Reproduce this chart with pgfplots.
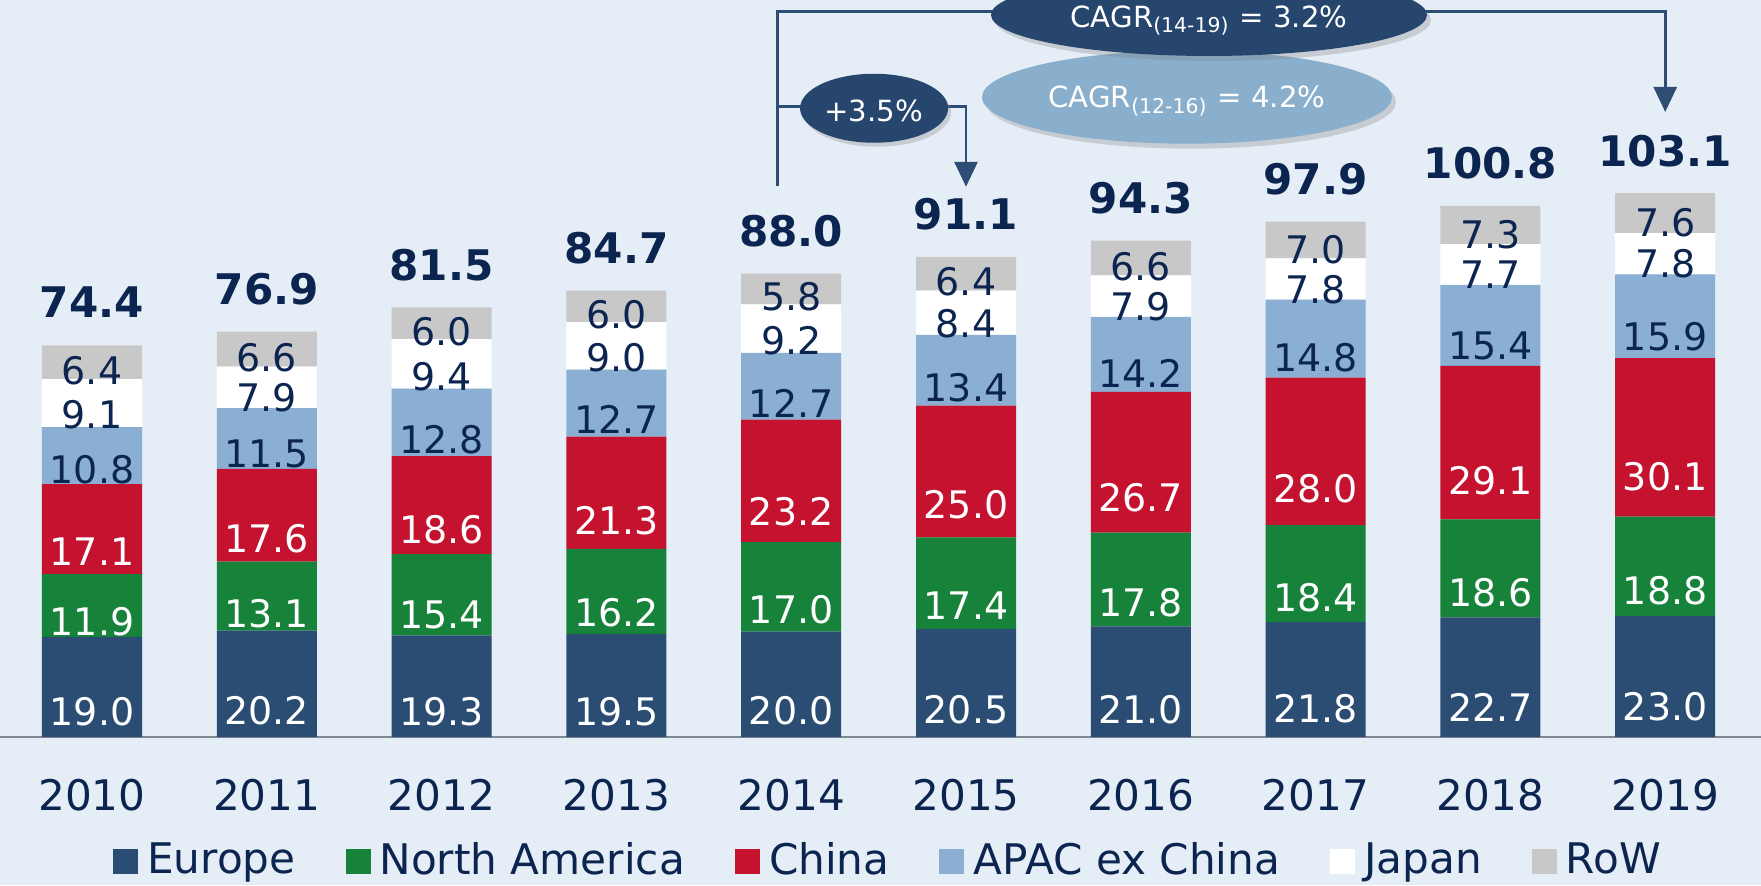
\documentclass[border=0pt]{standalone}
\usepackage{fontspec}
\setmainfont{DejaVu Sans}
\usepackage{pgfplots}
\usepackage{pgfplotstable}
\pgfplotsset{compat=1.18}
\usetikzlibrary{arrows.meta,shapes.geometric,shadows}

\definecolor{bgblue}{RGB}{229,238,246}
\definecolor{eucol}{RGB}{43,76,115}
\definecolor{nacol}{RGB}{22,130,58}
\definecolor{cncol}{RGB}{196,18,47}
\definecolor{apcol}{RGB}{138,175,211}
\definecolor{rwcol}{RGB}{200,200,200}
\definecolor{navy}{RGB}{12,37,80}
\definecolor{linecol}{RGB}{46,77,117}
\definecolor{darkell}{RGB}{38,70,110}
\definecolor{lightell}{RGB}{138,175,204}
\definecolor{axgrey}{RGB}{130,136,146}

% regional split per year
\pgfplotstableread{
x year eu na cn ap jp rw tot
0 2010 19.0 11.9 17.1 10.8 9.1 6.4 74.4
1 2011 20.2 13.1 17.6 11.5 7.9 6.6 76.9
2 2012 19.3 15.4 18.6 12.8 9.4 6.0 81.5
3 2013 19.5 16.2 21.3 12.7 9.0 6.0 84.7
4 2014 20.0 17.0 23.2 12.7 9.2 5.8 88.0
5 2015 20.5 17.4 25.0 13.4 8.4 6.4 91.1
6 2016 21.0 17.8 26.7 14.2 7.9 6.6 94.3
7 2017 21.8 18.4 28.0 14.8 7.8 7.0 97.9
8 2018 22.7 18.6 29.1 15.4 7.7 7.3 100.8
9 2019 23.0 18.8 30.1 15.9 7.8 7.6 103.1
}\mktdata

\pgfplotsset{
  frame/.style={
    at={(0,0)}, anchor=south west,
    x=1.748cm, y=0.0527cm,
    xmin=-0.5263, xmax=9.548, ymin=0, ymax=139.85,
    clip=false,
  },
  seg/.style={fill=#1, draw=none},
  % the node style ends up applied twice in stacked mode, hence a quarter unit
  seglabel/.style={
    nodes near coords={\pgfplotspointmeta},
    point meta=explicit symbolic,
    every node near coord/.append style={anchor=center,
      yshift=-\pgfplotspointmeta*0.013175cm,
      font=\fontsize{10.8}{12}\selectfont, text=#1, inner sep=0pt},
  },
}

\begin{document}
\begin{tikzpicture}
\useasboundingbox (0,-1.48) rectangle (17.61,7.37);
\fill[bgblue] (0,-1.48) rectangle (17.61,7.37);
\begin{axis}[
  frame,
  ybar stacked, bar width=1cm,
  axis x line*=bottom, axis y line=none,
  x axis line style={draw=axgrey, line width=0.6pt},
  ytick=\empty,
  xtick={0,...,9},
  xticklabels={2010,2011,2012,2013,2014,2015,2016,2017,2018,2019},
  major tick length=0pt,
  xticklabel style={anchor=base, yshift=-0.73cm, inner sep=0pt,
    font=\fontsize{12}{14}\selectfont, text=navy},
  legend columns=6,
  legend image code/.code={\fill[#1] (0cm,-0.125cm) rectangle (0.25cm,0.125cm);},
  legend style={at={(0.5,0)}, anchor=center, yshift=-1.24cm, xshift=0.1cm,
    draw=none, fill=none, inner sep=0pt,
    font=\fontsize{12}{14}\selectfont, text=navy,
    /tikz/every odd column/.append style={column sep=0.02cm},
    /tikz/every even column/.append style={column sep=0.43cm}},
]
\addplot[seg=eucol, seglabel=white] table[x=x, y=eu, meta=eu]{\mktdata};
\addlegendentry{Europe}
\addplot[seg=nacol, seglabel=white] table[x=x, y=na, meta=na]{\mktdata};
\addlegendentry{North America}
\addplot[seg=cncol, seglabel=white] table[x=x, y=cn, meta=cn]{\mktdata};
\addlegendentry{China}
\addplot[seg=apcol, seglabel=navy] table[x=x, y=ap, meta=ap]{\mktdata};
\addlegendentry{APAC ex China}
\addplot[seg=white, seglabel=navy] table[x=x, y=jp, meta=jp]{\mktdata};
\addlegendentry{Japan}
\addplot[seg=rwcol, seglabel=navy] table[x=x, y=rw, meta=rw]{\mktdata};
\addlegendentry{RoW}

\coordinate (L0) at (axis cs:3.92,104.5);
\coordinate (L1) at (axis cs:3.92,137.6);
\coordinate (L2) at (axis cs:9,137.6);
\coordinate (L3) at (axis cs:9,118.6);
\coordinate (S0) at (axis cs:3.92,119.6);
\coordinate (S1) at (axis cs:5,119.6);
\coordinate (S2) at (axis cs:5,104.4);
\coordinate (E1) at (axis cs:6.264,121.4);
\coordinate (E2) at (axis cs:6.39,137.0);
\coordinate (E3) at (axis cs:4.474,119.3);
\coordinate (T1) at (axis cs:6.264,119.5);
\coordinate (T2) at (axis cs:6.39,134.7);
\coordinate (T3) at (axis cs:4.471,116.7);
\end{axis}

% totals above the stacks
\begin{axis}[frame, hide axis]
\addplot[only marks, mark=none,
  nodes near coords={\pgfplotspointmeta}, point meta=explicit symbolic,
  every node near coord/.append style={anchor=base, yshift=0.27cm, inner sep=0pt,
    font=\bfseries\fontsize{12}{14}\selectfont, text=navy}]
  table[x=x, y=tot, meta=tot]{\mktdata};
\end{axis}

% CAGR annotations
\draw[linecol, line width=0.8pt, -{Triangle[width=0.23cm,length=0.25cm]}]
  (L0) -- (L1) -- (L2) -- (L3);
\draw[linecol, line width=0.8pt, -{Triangle[width=0.23cm,length=0.25cm]}]
  (S0) -- (S1) -- (S2);
\node[ellipse, fill=lightell, minimum width=4.10cm, minimum height=0.93cm, inner sep=0pt,
  drop shadow={shadow xshift=0.04cm, shadow yshift=-0.05cm, opacity=0.3}] at (E1) {};
\node[ellipse, fill=darkell, minimum width=4.36cm, minimum height=0.82cm, inner sep=0pt,
  drop shadow={shadow xshift=0.04cm, shadow yshift=-0.05cm, opacity=0.3}] at (E2) {};
\node[ellipse, fill=darkell, minimum width=1.48cm, minimum height=0.69cm, inner sep=0pt,
  drop shadow={shadow xshift=0.03cm, shadow yshift=-0.04cm, opacity=0.3}] at (E3) {};
\begin{scope}[every node/.style={anchor=base, inner sep=0pt, text=white,
    font=\fontsize{8.3}{10}\selectfont}]
\node at (T1) {CAGR\textsubscript{(12-16)} = 4.2\%};
\node at (T2) {CAGR\textsubscript{(14-19)} = 3.2\%};
\node at (T3) {+3.5\%};
\end{scope}
\end{tikzpicture}
\end{document}
